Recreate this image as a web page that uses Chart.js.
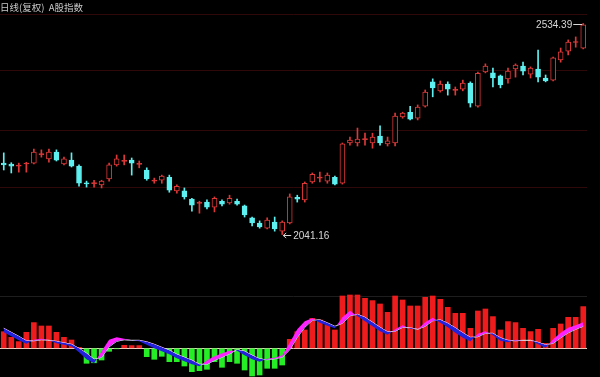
<!DOCTYPE html>
<html><head><meta charset="utf-8">
<script src="https://cdn.jsdelivr.net/npm/chart.js@4"></script>
<style>
html,body{margin:0;padding:0;background:#000;width:600px;height:377px;overflow:hidden;}
#wrap{position:relative;width:600px;height:377px;background:#000;}
#title{position:absolute;left:0;top:0;font:9.5px "Noto Sans CJK SC",sans-serif;color:#c8c8c8;line-height:14px;white-space:pre;}
canvas{position:absolute;left:0;}
</style></head><body>
<div id="wrap">
<canvas id="k" width="600" height="250" style="top:0"></canvas>
<canvas id="m" width="600" height="127" style="top:250px"></canvas>
<div id="title">日线(复权)  A股指数</div>
</div>
<script>
// ---- candlestick data (index points) ----
const open  = [2208,2206,2201,2206,2208,2228,2218,2234,2206,2215,
               2201,2161.5,2160,2157,2171,2204,2212,2215,2205,2192,
               2166,2168,2175,2143,2143,2124,2114,2117,2105,2119,
               2115,2119,2108,2080,2068,2056,2070,2049,2068,2128,
               2122,2164,2173,2166,2175,2161,2255,2255,2263,2255,
               2271,2253,2255,2316,2327,2313,2341,2398,2377,2393,
               2378,2381,2395,2341,2421,2419,2412,2405,2428,2435,
               2416,2428,2407,2402,2449,2470,2490,2477];
const high  = [2232,2209,2208,2210,2241,2239,2241,2239,2222,2232,
               2204,2166,2168,2168,2208,2227,2227,2220,2213,2197,
               2173,2180,2180,2157,2150,2126,2119,2122,2129,2122,
               2133,2124,2110,2082,2073,2080,2082,2073,2136,2133,
               2164,2185,2187,2185,2178,2255,2269,2290,2278,2278,
               2295,2269,2325,2327,2341,2344,2379,2405,2400,2398,
               2386,2402,2398,2421,2440,2430,2414,2430,2440,2444,
               2433,2472,2414,2456,2477,2496,2503,2534.39];
const low   = [2192,2185,2187,2187,2206,2222,2210,2213,2204,2199,
               2154,2152,2152,2150,2166,2201,2204,2180,2197,2168,
               2161,2161,2140,2138,2124,2096,2091,2101,2094,2108,
               2112,2110,2082,2061,2056,2054,2049,2041.16,2066,2117,
               2117,2161,2164,2161,2157,2159,2250,2248,2250,2243,
               2250,2248,2248,2313,2309,2309,2339,2363,2374,2367,
               2367,2377,2339,2339,2419,2386,2384,2395,2409,2414,
               2407,2398,2398,2400,2444,2461,2479,2475];
const close = [2204,2201,2203.5,2208,2234,2229.5,2234,2215,2218,2201,
               2161,2159.5,2162.5,2166,2204,2218,2214.5,2208,2207.5,2171,
               2168,2178,2145,2154,2129,2110,2115.5,2105,2126,2112,
               2126,2112,2087,2068,2059,2075,2054,2070,2129,2124,
               2161,2182,2174.5,2180,2159,2253,2262,2264,2264.5,2269,
               2255,2260,2318,2325,2311,2339,2374,2384,2393,2381,
               2379.5,2395,2348,2418,2435,2407,2391,2423,2437,2423,
               2430,2409,2400,2454,2468,2491,2491.5,2531];
const priceGrid = [2149.9, 2285.4, 2423.4, 2556.6];
const priceMin = 2014.3, priceMax = 2556.6;

// ---- MACD panel data ----
const macd = [16.6,11,6.7,16,25.7,22.3,22.3,16,11,8.3,
              1,-15,-14.5,-11.7,-3,-0.5,3,2.7,2.7,-8.4,
              -11,-8,-13.4,-13.4,-17.7,-23.4,-22.4,-21,-13.4,-19,
              -13.4,-15,-21.7,-27.7,-26.7,-20,-20,-16.7,9,16.6,
              18.3,30,28.3,23.3,18.3,52.3,53.3,53.3,50,47.7,
              44.3,36,52.3,48.3,42.3,42.3,51,52.3,49,41,
              35,35,20,37.3,39.3,31.7,18.3,26.7,25.7,20,
              16.7,19,5,20,24.3,31,31,41.7];
const dif  = [16,12,8,4.5,8.5,9.5,8,5,3.5,2,
              -4,-11,-15,-3,8.5,11,9.5,8,7,3.5,
              0,-3,-6,-10,-13,-16,-18,-12,-8,-5,
              -2.5,-2.5,-7,-11,-13.5,-10.5,-9.5,-7,5.5,19,
              27,30,25.5,22.5,20,31,37.5,32,27,22,
              17,13.5,19,23,19.5,19,26,30.5,25.5,21,
              15.5,10.5,7,14.5,17,13,7.5,6,8.5,8,
              8,4,0.5,9,15.5,20.5,23,26];
const dea  = [20,16,12,7.5,7.5,8.5,8,7,5.5,4,
              0,-5,-11,-9,1.5,7,8.5,8,8,6.5,
              4,1,-2,-6,-9,-12,-16,-16,-12,-9,
              -5.5,-1.5,-3,-7,-10.5,-11.5,-10.5,-9,-1.5,11,
              21,28,28.5,25.5,22,25,32.5,34,31,26,
              21,16.5,17,21,20.5,19,22,27.5,28.5,25,
              20.5,15.5,11,11.5,15,15,10.5,8,7.5,8,
              8,6,3.5,5,10.5,15.5,19,22];
const macdMin = -28.7, macdMax = 78.3;
const macdGrid = [0, 52.3];

const days = open.map((_, i) => 'D' + (i + 1));
const UP = '#dd3838', DOWN = '#5ef0f0';
const isUp = i => close[i] >= open[i];
const colorOf = i => isUp(i) ? UP : DOWN;

const extremes = {
  id: 'extremes',
  afterDatasetsDraw(chart) {
    const {ctx, scales: {x, y}} = chart;
    let hi = 0, lo = 0;
    for (let i = 1; i < high.length; i++) {
      if (high[i] > high[hi]) hi = i;
      if (low[i] < low[lo]) lo = i;
    }
    ctx.save();
    ctx.font = '10px "Liberation Sans", Arial, sans-serif';
    ctx.fillStyle = '#d6d6d6';
    ctx.strokeStyle = '#d6d6d6';
    ctx.lineWidth = 1;
    ctx.textBaseline = 'middle';
    const hx = x.getPixelForValue(hi), hy = Math.round(y.getPixelForValue(high[hi])) + 0.5;
    ctx.textAlign = 'right';
    ctx.fillText(high[hi].toFixed(2), hx - 11, hy + 1);
    ctx.beginPath(); ctx.moveTo(hx - 10, hy); ctx.lineTo(hx - 1, hy); ctx.stroke();
    const lx = x.getPixelForValue(lo), ly = Math.round(y.getPixelForValue(low[lo])) + 0.5;
    ctx.beginPath(); ctx.moveTo(lx + 1, ly); ctx.lineTo(lx + 9, ly);
    ctx.moveTo(lx + 4, ly - 2.5); ctx.lineTo(lx + 1, ly); ctx.lineTo(lx + 4, ly + 2.5); ctx.stroke();
    ctx.textAlign = 'left';
    ctx.fillText(low[lo].toFixed(2), lx + 11, ly + 1);
    ctx.restore();
  }
};

new Chart(document.getElementById('k'), {
  type: 'bar',
  data: {
    labels: days,
    datasets: [
      {
        label: 'body', data: open.map((o, i) => [o, close[i]]),
        grouped: false, order: 1, barThickness: 5, minBarLength: 1,
        backgroundColor: c => { const i = c.dataIndex; if (!isUp(i)) return DOWN; return Math.abs(close[i] - open[i]) < 3 ? UP : '#000'; },
        borderColor: c => colorOf(c.dataIndex), borderWidth: 1, borderSkipped: false
      },
      {
        label: 'wick', data: low.map((l, i) => [l, high[i]]),
        grouped: false, order: 2, barThickness: 1,
        backgroundColor: c => colorOf(c.dataIndex), borderWidth: 0
      }
    ]
  },
  options: {
    responsive: false, animation: false,
    layout: {padding: {top: 14, bottom: 4, left: 0, right: 13}},
    plugins: {legend: {display: false}, tooltip: {enabled: false}},
    scales: {
      x: {display: false, offset: true},
      y: {
        min: priceMin, max: priceMax,
        afterBuildTicks: a => { a.ticks = priceGrid.map(v => ({value: v})); },
        ticks: {display: false}, border: {display: false},
        grid: {drawTicks: false, color: 'rgba(85,14,16,0.55)', lineWidth: 1}
      }
    }
  },
  plugins: [extremes]
});

new Chart(document.getElementById('m'), {
  type: 'bar',
  data: {
    labels: days,
    datasets: [
      {
        type: 'line', label: 'DIF', data: dif, order: 0,
        borderColor: 'rgba(0,0,0,0)', borderWidth: 0, pointRadius: 0,
        fill: {target: 1, above: '#ff22ff', below: '#2222dd'}
      },
      {
        type: 'line', label: 'DEA', data: dea, order: 0,
        borderColor: '#eeeeee', borderWidth: 1, pointRadius: 0, fill: false
      },
      {
        type: 'bar', label: 'MACD', data: macd, order: 1, barThickness: 5,
        backgroundColor: c => c.raw >= 0 ? '#ee1c1c' : '#26ee26'
      }
    ]
  },
  options: {
    responsive: false, animation: false,
    layout: {padding: {top: 20, bottom: 0, left: 0, right: 13}},
    plugins: {legend: {display: false}, tooltip: {enabled: false}},
    scales: {
      x: {display: false, offset: true},
      y: {
        min: macdMin, max: macdMax,
        afterBuildTicks: a => { a.ticks = macdGrid.map(v => ({value: v})); },
        ticks: {display: false}, border: {display: false},
        grid: {drawTicks: false, color: c => (c.tick && c.tick.value === 0) ? '#f0d6c8' : '#1e1e1e'}
      }
    }
  }
});
</script>
</body></html>
